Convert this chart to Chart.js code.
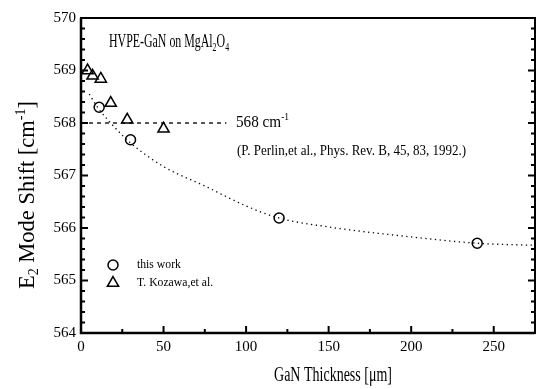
<!DOCTYPE html>
<html>
<head>
<meta charset="utf-8">
<script src="https://cdn.jsdelivr.net/npm/chart.js@4"></script>
<style>
  html, body { margin: 0; padding: 0; background: #fff; }
  #wrap { width: 539px; height: 389px; }
</style>
</head>
<body>
<div id="wrap"><canvas id="chart" width="539" height="389"></canvas></div>
<script>
// this work (circles)
const thisWorkX = [11, 30, 120, 240];
const thisWorkY = [568.3, 567.68, 566.19, 565.71];
// T. Kozawa, et al. (triangles)
const kozawaX = [4, 7, 12, 18, 28, 50];
const kozawaY = [569.0, 568.9, 568.84, 568.38, 568.06, 567.89];
// dotted guide curve
const fitX = [5, 10, 20, 30, 50, 75, 100, 120, 150, 200, 240, 275];
const fitY = [568.55, 568.3, 567.93, 567.62, 567.17, 566.8, 566.42, 566.19, 566.02, 565.83, 565.71, 565.67];
// 568 cm-1 reference line
const refX = [0, 88];
const refY = [568, 568];
// ticks
const xMajor = [0, 50, 100, 150, 200, 250];
const xMinor = [25, 75, 125, 175, 225, 275];
const yMajor = [564, 565, 566, 567, 568, 569, 570];
const yMinor = [564.2, 564.4, 564.6, 564.8, 565.2, 565.4, 565.6, 565.8, 566.2, 566.4, 566.6, 566.8,
                567.2, 567.4, 567.6, 567.8, 568.2, 568.4, 568.6, 568.8, 569.2, 569.4, 569.6, 569.8];

const FONT = '"Liberation Serif", "Times New Roman", serif';
const pts = (xs, ys) => xs.map((x, i) => ({ x: x, y: ys[i] }));

// draws text pieces (text, size, dy) side by side, squeezed horizontally by sx
function rich(ctx, parts, x, y, align, sx) {
  sx = sx || 1;
  let w = 0;
  parts.forEach(p => { ctx.font = p[1] + 'px ' + FONT; w += ctx.measureText(p[0]).width; });
  ctx.save();
  ctx.translate(x, y);
  ctx.scale(sx, 1);
  let cx = align === 'center' ? -w / 2 : 0;
  ctx.textAlign = 'left';
  ctx.textBaseline = 'middle';
  parts.forEach(p => {
    ctx.font = p[1] + 'px ' + FONT;
    ctx.fillText(p[0], cx, p[2] || 0);
    cx += ctx.measureText(p[0]).width;
  });
  ctx.restore();
}

const decor = {
  id: 'decor',
  afterDatasetsDraw(chart) {
    const ctx = chart.ctx;
    const a = chart.chartArea;
    const xs = chart.scales.x, ys = chart.scales.y;
    ctx.save();
    ctx.strokeStyle = '#000';
    ctx.fillStyle = '#000';

    // frame
    ctx.lineWidth = 2;
    ctx.strokeRect(a.left, a.top, a.right - a.left, a.bottom - a.top);
    ctx.lineWidth = 2.5;
    ctx.beginPath();
    ctx.moveTo(a.left, a.top); ctx.lineTo(a.left, a.bottom); ctx.lineTo(a.right, a.bottom);
    ctx.stroke();

    // inward ticks
    ctx.lineWidth = 2;
    ctx.beginPath();
    yMajor.concat(yMinor).forEach(v => {
      const len = yMajor.includes(v) ? 7 : 4;
      const py = ys.getPixelForValue(v);
      ctx.moveTo(a.left, py); ctx.lineTo(a.left + len, py);
      ctx.moveTo(a.right, py); ctx.lineTo(a.right - len, py);
    });
    xMajor.concat(xMinor).forEach(v => {
      const len = xMajor.includes(v) ? 7 : 4;
      const px = xs.getPixelForValue(v);
      ctx.moveTo(px, a.bottom); ctx.lineTo(px, a.bottom - len);
    });
    ctx.stroke();

    // texts inside the plot
    rich(ctx, [['HVPE-GaN on MgAl', 18], ['2', 12, 6], ['O', 18], ['4', 12, 6]], 109, 42, 'left', 0.66);
    rich(ctx, [['568 cm', 16], ['-1', 10, -6]], 236, 123, 'left', 0.95);
    rich(ctx, [['(P. Perlin,et al., Phys. Rev. B, 45, 83, 1992.)', 14]], 237, 151, 'left', 0.93);

    // legend
    ctx.lineWidth = 1.5;
    ctx.fillStyle = 'rgba(0,0,0,0)';
    Chart.helpers.drawPoint(ctx, { pointStyle: 'circle', radius: 5, rotation: 0, borderWidth: 1.5 }, 113, 265);
    Chart.helpers.drawPoint(ctx, { pointStyle: 'triangle', radius: 6.5, rotation: 0, borderWidth: 1.5 }, 113, 283);
    ctx.fillStyle = '#000';
    rich(ctx, [['this work', 13]], 137, 265, 'left', 0.9);
    rich(ctx, [['T. Kozawa,et al.', 13]], 137, 283, 'left', 0.9);

    // x axis title
    rich(ctx, [['GaN Thickness [\u03bcm]', 20]], 333, 376, 'center', 0.7);

    // y axis title (rotated)
    ctx.translate(28, 195);
    ctx.rotate(-Math.PI / 2);
    rich(ctx, [['E', 22.5], ['2', 14, 6], [' Mode Shift [cm', 22.5], ['-1', 14, -7], [']', 22.5]], 0, 0, 'center', 1);
    ctx.restore();
  }
};

new Chart(document.getElementById('chart').getContext('2d'), {
  type: 'scatter',
  data: {
    datasets: [
      {
        label: 'this work',
        data: pts(thisWorkX, thisWorkY),
        pointStyle: 'circle',
        pointRadius: 5,
        borderColor: '#000',
        borderWidth: 1.5,
        backgroundColor: 'rgba(0,0,0,0)',
        showLine: false
      },
      {
        label: 'T. Kozawa,et al.',
        data: pts(kozawaX, kozawaY),
        pointStyle: 'triangle',
        pointRadius: 6.5,
        borderColor: '#000',
        borderWidth: 1.5,
        backgroundColor: 'rgba(0,0,0,0)',
        showLine: false
      },
      {
        label: 'fit',
        data: pts(fitX, fitY),
        showLine: true,
        pointRadius: 0,
        borderColor: '#000',
        borderWidth: 1.3,
        borderDash: [1.3, 3.5],
        cubicInterpolationMode: 'monotone'
      },
      {
        label: '568 cm-1',
        data: pts(refX, refY),
        showLine: true,
        pointRadius: 0,
        borderColor: '#000',
        borderWidth: 1.3,
        borderDash: [4, 4]
      }
    ]
  },
  options: {
    responsive: false,
    animation: false,
    devicePixelRatio: 1,
    layout: { autoPadding: false, padding: { left: 0, top: 18, right: 4, bottom: 0 } },
    plugins: { legend: { display: false }, tooltip: { enabled: false } },
    scales: {
      x: {
        type: 'linear',
        min: 0,
        max: 275,
        afterBuildTicks: s => { s.ticks = xMajor.map(v => ({ value: v })); },
        afterFit: s => { s.height = 56; },
        ticks: { color: '#000', font: { family: FONT, size: 15 }, padding: 5, maxRotation: 0 },
        grid: { display: false, drawTicks: false },
        border: { display: false }
      },
      y: {
        type: 'linear',
        min: 564,
        max: 570,
        afterBuildTicks: s => { s.ticks = yMajor.map(v => ({ value: v })); },
        afterFit: s => { s.width = 81; },
        ticks: { color: '#000', font: { family: FONT, size: 15 }, padding: 5 },
        grid: { display: false, drawTicks: false },
        border: { display: false }
      }
    }
  },
  plugins: [decor]
});
</script>
</body>
</html>
